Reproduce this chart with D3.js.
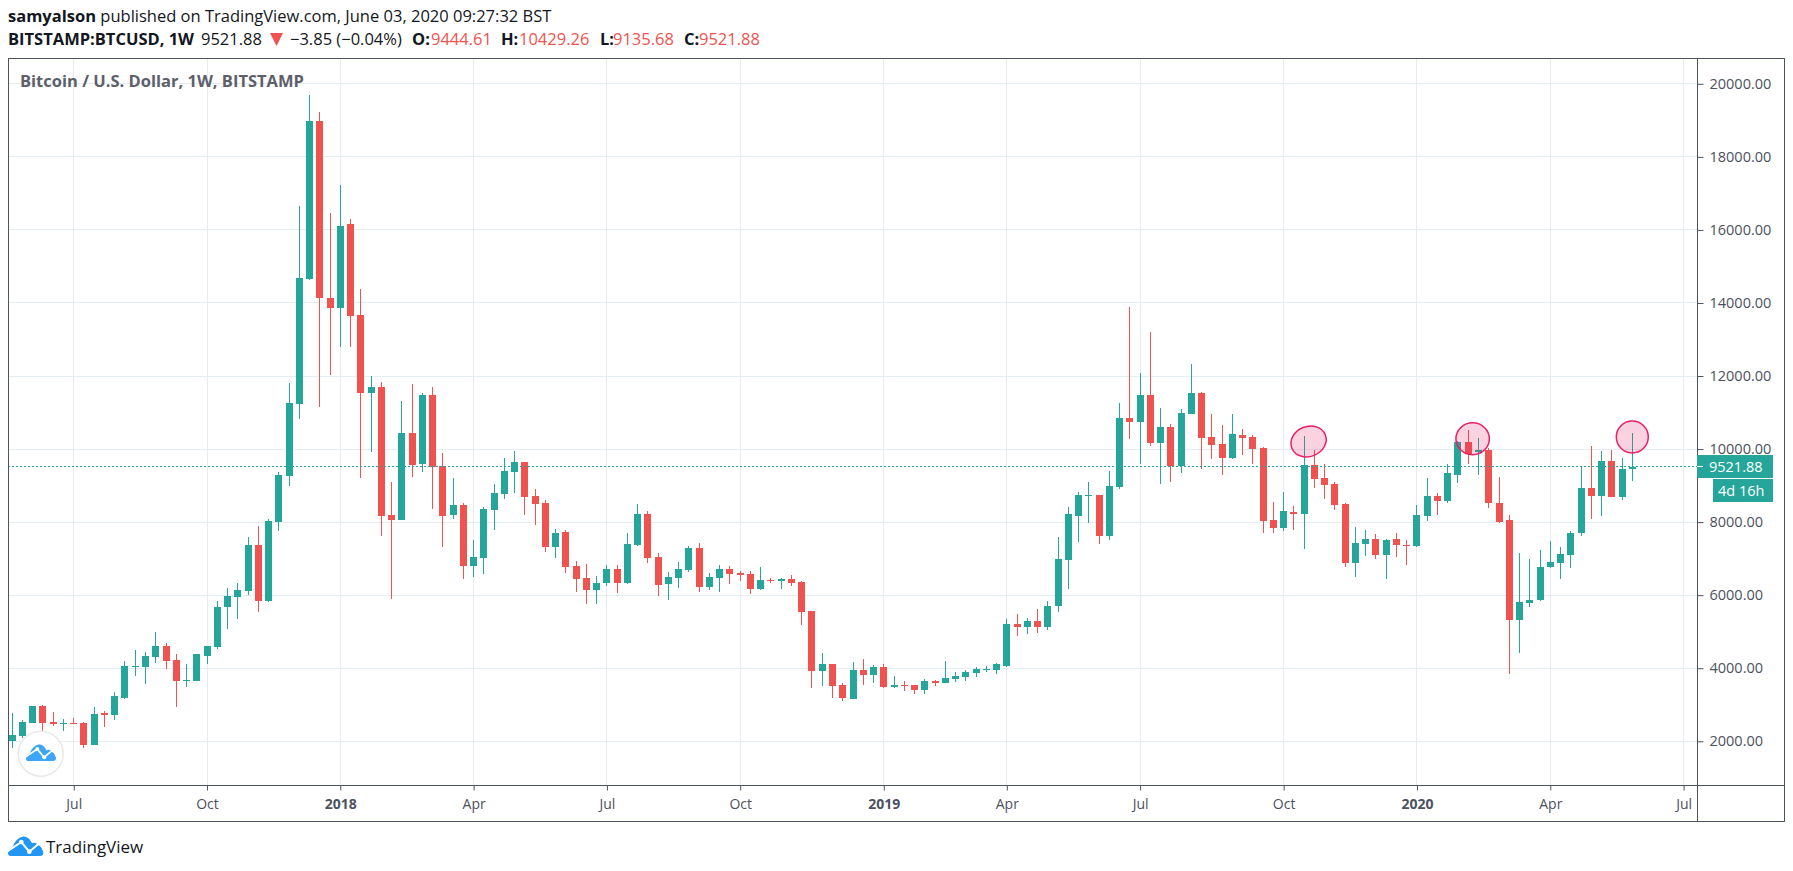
<!DOCTYPE html>
<html>
<head>
<meta charset="utf-8">
<script src="https://cdn.jsdelivr.net/npm/d3@7"></script>
<style>
html, body { margin: 0; padding: 0; background: #fff; overflow: hidden; }
svg { display: block; }
text { font-family: "Open Sans", "Noto Sans", sans-serif; }
</style>
</head>
<body>
<div id="chart"></div>
<script>
// weekly BTCUSD candles, first week 2017-05-22
var firstWeek = new Date(Date.UTC(2017, 4, 22))
var lastWeek = new Date(Date.UTC(2020, 5, 1))

var opens = [2009,2146,2502,2968,2530,2475,2502,2502,1900,2776,
    2721,3187,4037,4037,4310,4612,4228,3653,3653,4338,
    4584,5680,5954,6118,7379,5845,8009,9269,11242,14667,
    18968,14146,13872,16173,13680,11543,11708,8200,8064,10447,
    9598,11488,9543,8200,8475,6804,7023,8338,8776,9379,
    9653,8721,8530,7324,7735,6804,6475,6146,6338,6721,
    6338,7379,8228,7050,6310,6475,6694,7297,6228,6475,
    6721,6612,6584,6173,6420,6393,6447,6365,5571,3927,
    4119,3543,3160,3954,3817,4037,3489,3543,3543,3406,
    3653,3598,3708,3763,3872,3954,3954,4064,5215,5132,
    5297,5132,5708,6968,8173,8721,8749,7625,8968,10858,
    10749,11488,10173,10612,9525,10968,11543,10338,10146,9762,
    10393,10338,10036,8064,7845,8283,8228,9571,9215,9050,
    8502,6886,7406,7543,7105,7543,7379,7352,8173,8721,
    8584,9297,10201,9927,9982,8530,8064,5324,5790,5872,
    6776,6886,7105,7708,8941,8721,9680,8694,9444.61]

var highs = [2776,2584,2978,2995,2804,2612,2640,2530,2940,2831,
    3352,4200,4502,4447,4995,4694,4392,4118,4392,4612,
    5844,6200,6338,7598,7900,8091,9379,11817,16667,19680,
    19215,16475,17242,16310,14393,12009,11845,9105,11324,11790,
    11543,11708,9900,9215,8530,7516,8420,9050,9762,9954,
    9653,8913,8612,7817,7790,6941,6859,6530,6831,6831,
    7708,8502,8310,7160,6639,6913,7351,7434,6612,6831,
    6804,6667,6667,6776,6475,6475,6557,6393,5571,4420,
    4119,3598,4174,4256,4091,4119,3790,3653,3543,3708,
    3680,4201,3900,3954,4037,4064,4146,5352,5489,5379,
    5625,5845,7598,8420,8831,9105,8749,9406,11269,13899,
    12091,13214,11132,10694,11105,12338,11570,10968,10667,10968,
    10557,10393,10064,8557,8831,8447,10365,9982,9598,9105,
    8530,7872,7790,7680,7543,7708,7516,8475,9215,8804,
    9598,10230,10530,10310,10036,9242,8201,7160,6995,7242,
    7489,7324,7763,9543,10091,9954,9982,9762,10429.26]

var lows = [1817,2091,2500,2256,2420,2283,2460,1817,1900,2393,
    2584,3160,3790,3570,4146,3982,2940,3488,3653,4118,
    4530,5077,5350,6009,5543,5817,7763,8995,10830,14640,
    11160,12036,12803,12803,9215,9927,7626,5900,8064,9242,
    9379,8365,7324,8091,6430,6500,6585,7790,8640,8804,
    8200,7927,7187,7023,6612,6091,5762,5762,6256,6064,
    6310,7351,6886,5982,5872,6201,6639,6091,6146,6091,
    6310,6393,6036,6146,6338,6173,6256,5187,3461,3516,
    3187,3105,3160,3543,3598,3461,3461,3379,3297,3297,
    3516,3598,3626,3653,3763,3900,3845,4037,4886,4941,
    4968,5050,5543,6173,7461,7982,7406,7516,8913,10283,
    9598,10091,9050,9105,9352,10968,9461,9735,9297,9735,
    9845,9598,7708,7708,7763,7790,7269,8940,8639,8338,
    6776,6502,7078,6995,6430,7050,6831,7324,8037,8201,
    8530,9078,9598,9297,8393,7982,3845,4420,5680,5845,
    6750,6447,6749,7626,8091,8174,8694,8612,9135.68]

var closes = [2173,2530,2968,2502,2475,2502,2475,1900,2749,2721,
    3242,4064,4064,4338,4612,4200,3653,3680,4392,4612,
    5680,5981,6146,7379,5845,8037,9297,11269,14694,18968,
    14146,13872,16119,13653,11543,11708,8173,8064,10447,9571,
    11488,9516,8173,8475,6804,7050,8365,8804,9406,9653,
    8694,8502,7324,7708,6776,6448,6146,6338,6721,6338,
    7406,8228,7023,6283,6502,6721,7297,6228,6502,6721,
    6584,6557,6173,6420,6393,6447,6338,5543,3927,4119,
    3516,3187,3954,3817,4037,3489,3543,3516,3406,3653,
    3598,3735,3790,3900,3982,3982,4119,5215,5132,5297,
    5132,5708,6995,8228,8749,8749,7625,8995,10858,10749,
    11488,10173,10612,9525,10995,11543,10310,10119,9762,10420,
    10310,10009,8037,7845,8310,8228,9571,9187,9023,8475,
    6886,7434,7543,7105,7516,7379,7352,8201,8721,8584,
    9352,10201,9872,9982,8530,8009,5324,5817,5872,6776,
    6913,7132,7708,8941,8721,9680,8694,9461,9521.88]

var priceTicks = [2000,4000,6000,8000,10000,12000,14000,16000,18000,20000]
var timeTickDates = ["2017-07-03","2017-10-02","2018-01-01","2018-04-02","2018-07-02","2018-10-01",
    "2019-01-07","2019-04-01","2019-07-01","2019-10-07","2020-01-06","2020-04-06","2020-07-06"]
var timeTickLabels = ["Jul","Oct","2018","Apr","Jul","Oct","2019","Apr","Jul","Oct","2020","Apr","Jul"]

// the three pink circles drawn on the chart
var markDates = ["2019-10-24","2020-02-13","2020-06-01"]
var markPrices = [10209,10283,10330]
var markSizes = [[18,15,-22],[16.7,16,0],[16,16,0]]

var lastPrice = closes[closes.length - 1]
var headerLine = [
    ["BITSTAMP:BTCUSD, 1W", 8, "b"],
    ["9521.88", 201, "n"],
    ["\u22123.85 (\u22120.04%)", 290, "n"],
    ["O:", 412, "b"], ["9444.61", 431, "r"],
    ["H:", 501, "b"], ["10429.26", 519, "r"],
    ["L:", 600, "b"], ["9135.68", 613, "r"],
    ["C:", 684, "b"], ["9521.88", 699, "r"]
]

var GREEN = "#26a69a", RED = "#ef5350", GRID = "#e4edf2", LINE = "#4c525e"
var paneLeft = 8, paneRight = 1697, frameRight = 1784, paneTop = 58, paneBottom = 785, frameBottom = 821

function drawChart() {
    var svg = d3.select("#chart").append("svg").attr("width", 1793).attr("height", 871)

    var weeks = d3.utcMonday.range(firstWeek, d3.utcDay.offset(lastWeek, 1))
    var candles = weeks.map(function (w, i) {
        return { date: w, o: opens[i], h: highs[i], l: lows[i], c: closes[i] }
    })

    var x = d3.scaleUtc().domain([firstWeek, lastWeek]).range([12.2, 1632.3])
    var y = d3.scaleLinear().domain([2000, 20000]).range([741.3, 83.8])
    var timeTicks = timeTickDates.map(function (d) { return new Date(d + "T00:00:00Z") })

    function snap(v) { return Math.floor(v) + 0.5 }

    // grid
    svg.append("g").selectAll("line").data(priceTicks).enter().append("line")
        .attr("x1", paneLeft).attr("x2", paneRight)
        .attr("y1", function (d) { return snap(y(d)) })
        .attr("y2", function (d) { return snap(y(d)) })
        .attr("stroke", GRID)
    svg.append("g").selectAll("line").data(timeTicks).enter().append("line")
        .attr("x1", function (d) { return snap(x(d)) })
        .attr("x2", function (d) { return snap(x(d)) })
        .attr("y1", paneTop).attr("y2", paneBottom)
        .attr("stroke", GRID)

    // candles
    var bars = svg.append("g").selectAll("g").data(candles).enter().append("g")
        .attr("shape-rendering", "crispEdges")
        .attr("fill", function (d) { return d.c >= d.o ? GREEN : RED })
    bars.append("rect")
        .attr("x", function (d) { return Math.floor(x(d.date)) })
        .attr("width", 1)
        .attr("y", function (d) { return y(d.h) })
        .attr("height", function (d) { return y(d.l) - y(d.h) })
    bars.append("rect")
        .attr("x", function (d) { return Math.floor(x(d.date)) - 3 })
        .attr("width", 7)
        .attr("y", function (d) { return y(Math.max(d.o, d.c)) })
        .attr("height", function (d) { return Math.max(1, Math.abs(y(d.o) - y(d.c))) })

    // last price line
    svg.append("line")
        .attr("x1", paneLeft).attr("x2", paneRight)
        .attr("y1", snap(y(lastPrice))).attr("y2", snap(y(lastPrice)))
        .attr("stroke", GREEN).attr("stroke-dasharray", "2 2")

    // pink circles
    var marks = svg.append("g")
    markDates.forEach(function (d, i) {
        var cx = x(new Date(d + "T00:00:00Z")), cy = y(markPrices[i]), s = markSizes[i]
        marks.append("ellipse")
            .attr("transform", "translate(" + cx + "," + cy + ") rotate(" + s[2] + ")")
            .attr("rx", s[0]).attr("ry", s[1])
            .attr("fill", "rgba(233,30,99,0.2)")
            .attr("stroke", "#e91e63").attr("stroke-width", 1.5)
    })

    // watermark title
    svg.append("text").attr("x", 20).attr("y", 87)
        .attr("font-size", 16.5).attr("font-weight", 700).attr("fill", "#5d606b")
        .text("Bitcoin / U.S. Dollar, 1W, BITSTAMP")

    // logo inside chart
    svg.append("circle").attr("cx", 40.7).attr("cy", 753.7).attr("r", 22.5)
        .attr("fill", "#fff").attr("stroke", "#e8e8e8").attr("stroke-width", 1.5)
    drawLogo(svg, 26, 744, 0.283, "#3ca5f5")

    // frames
    svg.append("rect").attr("x", paneLeft + 0.5).attr("y", paneTop + 0.5)
        .attr("width", frameRight - paneLeft).attr("height", frameBottom - paneTop)
        .attr("fill", "none").attr("stroke", LINE)
    svg.append("line").attr("x1", paneLeft).attr("x2", frameRight).attr("y1", paneBottom + 0.5).attr("y2", paneBottom + 0.5).attr("stroke", LINE)
    svg.append("line").attr("x1", paneRight + 0.5).attr("x2", paneRight + 0.5).attr("y1", paneTop).attr("y2", frameBottom).attr("stroke", LINE)

    // price axis
    var yAxis = d3.axisRight(y).tickValues(priceTicks).tickSize(6).tickPadding(6)
        .tickFormat(function (d) { return d.toFixed(2) })
    var yg = svg.append("g").attr("transform", "translate(" + (paneRight + 0.5) + ",0)").call(yAxis)
    yg.select(".domain").remove()
    yg.selectAll("line").attr("stroke", LINE)
    yg.selectAll("text").attr("font-size", 14.5).attr("fill", LINE)
        .attr("font-family", "'Open Sans'")

    // time axis
    var xAxis = d3.axisBottom(x).tickValues(timeTicks).tickSize(5).tickPadding(9)
        .tickFormat(function (d, i) { return timeTickLabels[i] })
    var xg = svg.append("g").attr("transform", "translate(0," + (paneBottom + 0.5) + ")").call(xAxis)
    xg.select(".domain").remove()
    xg.selectAll("line").attr("stroke", LINE)
    xg.selectAll("text").attr("font-size", 14).attr("fill", LINE)
        .attr("font-family", "'Open Sans'")
        .attr("font-weight", function (d, i) { return /^20/.test(timeTickLabels[i]) ? 700 : 400 })

    // last price and countdown labels
    svg.append("rect").attr("x", paneRight).attr("y", 455).attr("width", 76).attr("height", 23).attr("fill", GREEN)
    svg.append("rect").attr("x", 1713).attr("y", 479).attr("width", 60).attr("height", 23).attr("fill", GREEN)
    svg.append("line").attr("x1", paneRight).attr("x2", paneRight + 6).attr("y1", snap(y(lastPrice))).attr("y2", snap(y(lastPrice))).attr("stroke", "#fff")
    svg.append("text").attr("x", 1709).attr("y", 471.5).attr("font-size", 14.5).attr("fill", "#fff").text(lastPrice.toFixed(2))
    svg.append("text").attr("x", 1718).attr("y", 495.5).attr("font-size", 14.5).attr("fill", "#fff").text("4d 16h")

    // header
    var h1 = svg.append("text").attr("x", 8).attr("y", 22).attr("font-size", 16.5).attr("fill", "#131722")
    h1.append("tspan").attr("font-weight", 700).text("samyalson")
    h1.append("tspan").text(" published on TradingView.com, June 03, 2020 09:27:32 BST")

    svg.append("g").selectAll("text").data(headerLine).enter().append("text")
        .attr("x", function (d) { return d[1] })
        .attr("y", 45)
        .attr("font-size", 16.5)
        .attr("font-weight", function (d) { return d[2] == "b" ? 700 : 400 })
        .attr("fill", function (d) { return d[2] == "r" ? RED : "#131722" })
        .text(function (d) { return d[0] })
    svg.append("path")
        .attr("d", d3.line()([[270, 33], [283, 33], [276.5, 46]]) + "Z")
        .attr("fill", RED)

    // footer logo
    drawLogo(svg, 8, 836, 0.3333, "#2196f3")
    svg.append("text").attr("x", 46).attr("y", 853).attr("font-size", 17).attr("fill", "#131722").text("TradingView")
}

function drawLogo(svg, tx, ty, k, color) {
    var g = svg.append("g").attr("transform", "translate(" + tx + "," + ty + ") scale(" + k + ")")
    g.append("path")
        .attr("d", "M8,60 Q0,60 0,50 Q0,38 14,32 Q24,6 44,2 Q62,0 72,22 Q84,16 92,28 Q102,32 106,48 Q107,60 96,60 Z")
        .attr("fill", color)
    g.append("path")
        .attr("d", "M-2,46 L40,18 L64,47 L96,20 L108,44")
        .attr("fill", "none").attr("stroke", "#fff").attr("stroke-width", 6)
    g.append("circle").attr("cx", 40).attr("cy", 18).attr("r", 7).attr("fill", "#fff")
    g.append("circle").attr("cx", 64).attr("cy", 47).attr("r", 7).attr("fill", "#fff")
}

drawChart()
</script>
</body>
</html>
